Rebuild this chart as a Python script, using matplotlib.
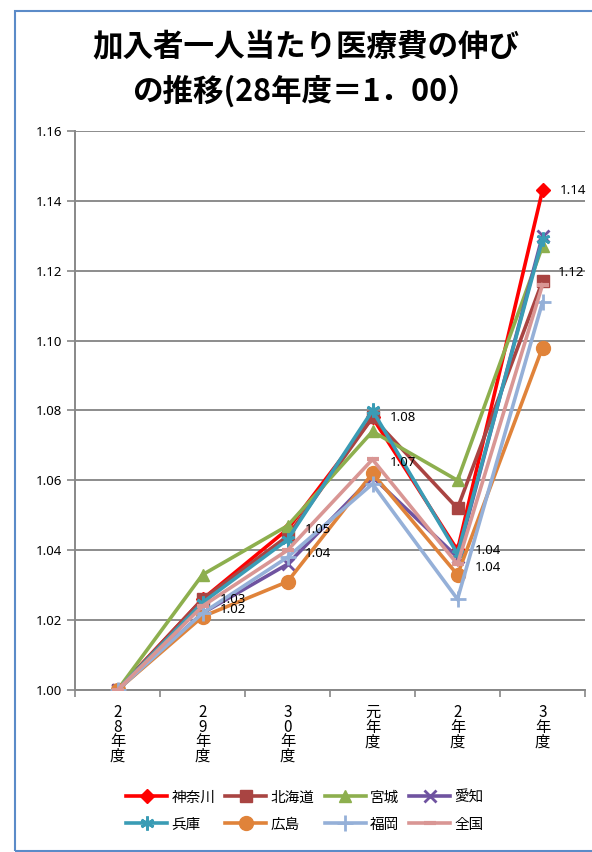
import matplotlib
matplotlib.use("Agg")
import matplotlib.pyplot as plt
from matplotlib.patches import Rectangle
import numpy as np

plt.rcParams['font.family'] = ['Noto Sans CJK JP', 'DejaVu Sans']

categories = ["2\n8\n年\n度", "2\n9\n年\n度", "3\n0\n年\n度", "元\n年\n度", "2\n年\n度", "3\n年\n度"]
series_names = ["神奈川", "北海道", "宮城", "愛知", "兵庫", "広島", "福岡", "全国"]

kanagawa = [1.000, 1.026, 1.046, 1.078, 1.040, 1.143]
hokkaido = [1.000, 1.026, 1.044, 1.078, 1.052, 1.117]
miyagi   = [1.000, 1.033, 1.047, 1.074, 1.060, 1.127]
aichi    = [1.000, 1.022, 1.036, 1.061, 1.038, 1.130]
hyogo    = [1.000, 1.025, 1.043, 1.080, 1.039, 1.129]
hiroshima= [1.000, 1.021, 1.031, 1.062, 1.033, 1.098]
fukuoka  = [1.000, 1.022, 1.038, 1.059, 1.026, 1.111]
zenkoku  = [1.000, 1.024, 1.040, 1.066, 1.036, 1.116]

series_values = [kanagawa, hokkaido, miyagi, aichi, hyogo, hiroshima, fukuoka, zenkoku]
colors = ["#FF0000", "#A94442", "#8DAF4E", "#6F53A0", "#3A9CB5", "#E0833A", "#95B0D8", "#D99694"]
markers = ["D", "s", "^", "x", (6, 2, 0), "o", "+", "_"]
msizes = [7, 9, 9, 9, 10, 10, 11, 9]
mews = [1, 1, 1, 2, 2, 1, 2, 3]

yticks = [1.00, 1.02, 1.04, 1.06, 1.08, 1.10, 1.12, 1.14, 1.16]

fig = plt.figure(figsize=(5.92, 8.52), dpi=100)
ax = fig.add_axes([75/592, 1-690/852, 510/592, 559/852])

x = np.arange(len(categories))
handles = []
for name, vals, c, m, ms, mew in zip(series_names, series_values, colors, markers, msizes, mews):
    h, = ax.plot(x, vals, color=c, lw=2.6, marker=m, markersize=ms, markeredgewidth=mew,
                 markeredgecolor=c, markerfacecolor=c, label=name, solid_joinstyle='miter', zorder=3)
    handles.append(h)

# data labels for 神奈川 and 全国
for i, v in enumerate(kanagawa):
    if i == 0:
        continue
    ax.annotate(f"{v:.2f}", (x[i], v), xytext=(12.5, 0), textcoords='offset points',
                ha='left', va='center', fontsize=9.5, family=['Noto Sans', 'DejaVu Sans'], zorder=5)
for i, v in enumerate(zenkoku):
    if i == 0:
        continue
    dy = 11 if i == len(zenkoku) - 1 else 0
    dx = 11 if i == len(zenkoku) - 1 else 12.5
    ax.annotate(f"{v:.2f}", (x[i], v), xytext=(dx, dy - 2.5), textcoords='offset points',
                ha='left', va='center', fontsize=9.5, family=['Noto Sans', 'DejaVu Sans'], zorder=5)

ax.set_xlim(-0.5, len(categories) - 0.5)
ax.set_ylim(1.00, 1.16)
ax.set_yticks(yticks)
ax.set_yticklabels([f"{t:.2f}" for t in yticks], family=['Noto Sans', 'DejaVu Sans'], fontsize=9.5)
ax.set_xticks(x)
ax.set_xticklabels(categories, fontsize=11, linespacing=0.82, va='top')
ax.set_xticks(np.arange(-0.5, len(categories), 1.0), minor=True)
ax.tick_params(axis='x', which='major', length=0, pad=10)
ax.tick_params(axis='x', which='minor', length=5, color='#888888', width=1.2)
ax.tick_params(axis='y', length=6, color='#888888', width=1.2, pad=3)
ax.yaxis.grid(True, color='#8c8c8c', lw=1.4)
ax.set_axisbelow(True)
for s in ['top', 'right']:
    ax.spines[s].set_visible(False)
for s in ['left', 'bottom']:
    ax.spines[s].set_color('#888888')
    ax.spines[s].set_linewidth(1.4)

fig.text(306/592, 1-46/852, "加入者一人当たり医療費の伸び", ha='center', va='center',
         fontsize=22, weight='bold')
fig.text(305/592, 1-91/852, "の推移(28年度＝1．00）", ha='center', va='center',
         fontsize=22, weight='bold')

order = [0, 4, 1, 5, 2, 6, 3, 7]
leg = fig.legend([handles[i] for i in order], [series_names[i] for i in order],
                 loc='center', bbox_to_anchor=(305/592, 1-811/852), ncol=4, frameon=False,
                 fontsize=10.5, handlelength=2.8, columnspacing=0.7, handletextpad=0.3,
                 labelspacing=0.9, borderaxespad=0)

fig.patches.append(Rectangle((15/592, 1/852), 1.2, 1-12/852, transform=fig.transFigure,
                             fill=False, edgecolor='#5B8BC8', lw=1.5))

fig.savefig("out.png", dpi=100)
